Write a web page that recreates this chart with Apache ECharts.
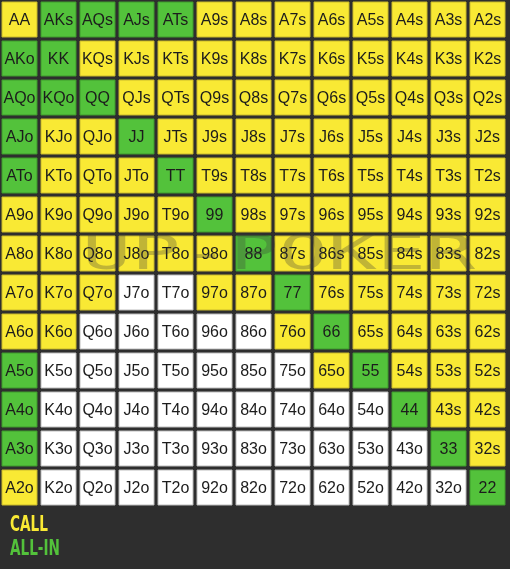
<!DOCTYPE html>
<html>
<head>
<meta charset="utf-8">
<script src="https://cdn.jsdelivr.net/npm/echarts@6/dist/echarts.min.js"></script>
<style>
html,body{margin:0;padding:0;background:#2e2e2e;}
#c{width:510px;height:569px;}
</style>
</head>
<body>
<div id="c"></div>
<script>
// Ranks (columns left→right, rows top→bottom)
const ranks = ['A','K','Q','J','T','9','8','7','6','5','4','3','2'];
// Action per cell: C = call, A = all-in, F = fold (white)
const actions = [
  'CAAAACCCCCCCC',
  'AACCCCCCCCCCC',
  'AAACCCCCCCCCC',
  'ACCACCCCCCCCC',
  'ACCCACCCCCCCC',
  'CCCCCACCCCCCC',
  'CCCCCCACCCCCC',
  'CCCFFCCACCCCC',
  'CCFFFFFCACCCC',
  'AFFFFFFFCACCC',
  'AFFFFFFFFFACC',
  'AFFFFFFFFFFAC',
  'CFFFFFFFFFFFA'
];
const legendLabels = ['CALL', 'ALL-IN'];
const watermark = 'UP-POKER';

const colors = { C: '#f9e934', A: '#53c23b', F: '#ffffff' };
const edge = { C: '#c9b92a', A: '#3f9a2d', F: '#bdbdbd' };

const data = [];
for (let i = 0; i < 13; i++) {
  for (let j = 0; j < 13; j++) {
    let label;
    if (i === j) label = ranks[i] + ranks[i];
    else if (j > i) label = ranks[i] + ranks[j] + 's';
    else label = ranks[j] + ranks[i] + 'o';
    data.push([j, i, label, actions[i][j]]);
  }
}

const chart = echarts.init(document.getElementById('c'), null, { renderer: 'canvas' });
chart.setOption({
  backgroundColor: '#2e2e2e',
  animation: false,
  grid: { left: 0, top: 0, width: 507, height: 507 },
  xAxis: { type: 'category', data: ranks, show: false },
  yAxis: { type: 'category', data: ranks, inverse: true, show: false },
  series: [{
    type: 'custom',
    data: data,
    renderItem: function (params, api) {
      const c = api.coord([api.value(0), api.value(1)]);
      const s = api.size([1, 1]);
      const act = data[params.dataIndex][3];
      const w = s[0] - 4, h = s[1] - 4;
      return {
        type: 'group',
        children: [{
          type: 'rect',
          shape: { x: c[0] - s[0] / 2 + 2, y: c[1] - s[1] / 2 + 2, width: w, height: h },
          style: { fill: colors[act], stroke: edge[act], lineWidth: 1 }
        }, {
          type: 'text',
          style: {
            x: c[0], y: c[1] + 1,
            text: data[params.dataIndex][2],
            fill: '#1c1c1c',
            font: '16px "Liberation Sans", Arial, sans-serif',
            align: 'center', verticalAlign: 'middle'
          }
        }]
      };
    }
  }],
  graphic: [{
    type: 'text',
    x: 82, y: 233,
    scaleX: 1.7,
    z: 100,
    style: {
      text: watermark,
      fill: 'rgba(60,60,60,0.3)',
      font: '48px "DejaVu Sans Mono", monospace'
    }
  }, {
    type: 'text',
    left: 10, top: 515,
    scaleX: 0.72,
    style: {
      text: legendLabels[0],
      fill: '#f9e934',
      font: 'bold 21px "Liberation Sans Narrow", "DejaVu Sans Condensed", sans-serif'
    }
  }, {
    type: 'text',
    left: 10, top: 539,
    scaleX: 0.72,
    style: {
      text: legendLabels[1],
      fill: '#53c23b',
      font: 'bold 21px "Liberation Sans Narrow", "DejaVu Sans Condensed", sans-serif'
    }
  }]
});
</script>
</body>
</html>
